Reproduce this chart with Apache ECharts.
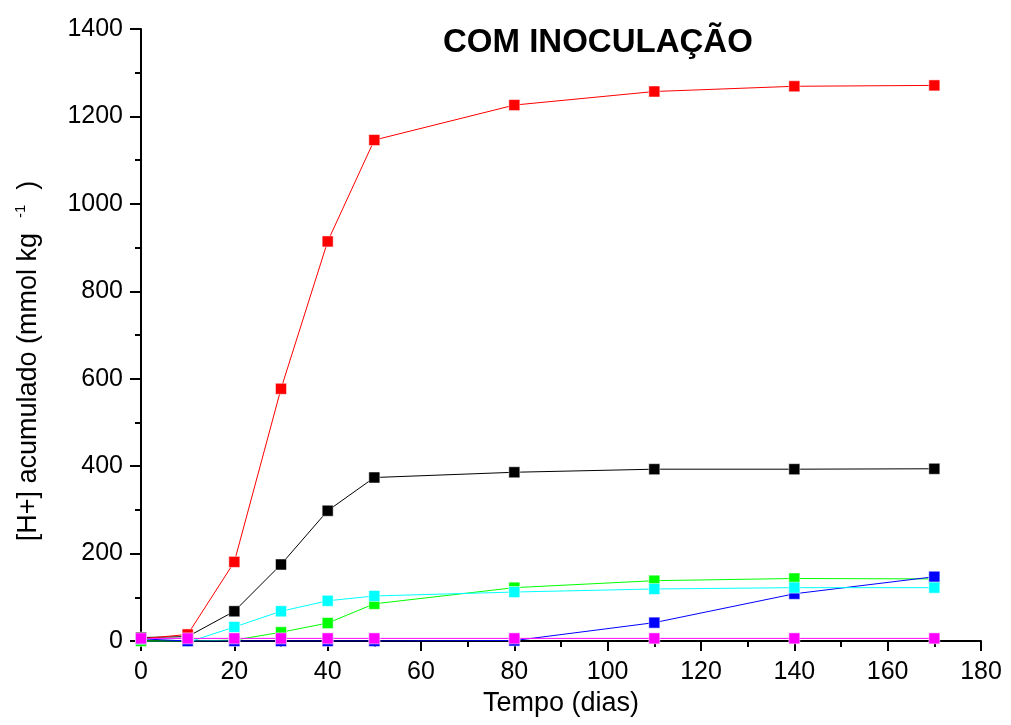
<!DOCTYPE html>
<html><head><meta charset="utf-8">
<script src="https://cdn.jsdelivr.net/npm/echarts@6/dist/echarts.min.js"></script>
<style>html,body{margin:0;padding:0;background:#fff}#c{width:1011px;height:725px}</style>
</head><body><div id="c"></div>
<script>
const days = [0, 10, 20, 30, 40, 50, 80, 110, 140, 170];
const black = [8, 10, 68, 175, 298, 374, 386, 393, 393, 394];
const red = [5, 15, 181, 577, 914, 1146, 1226, 1257, 1269, 1271];
const green = [0, 0, 2, 20, 41, 85, 122, 138, 143, 142];
const blue = [5, 0, 0, 0, 0, 0, 1, 42, 108, 147];
const cyan = [-2, -3, 32, 68, 92, 103, 112, 119, 122, 122];
const magenta = [6, 6, 6, 6, 6, 6, 6, 6, 6, 6];
const titleText = 'COM INOCULAÇÃO';
const xName = 'Tempo (dias)';

function mk(name, vals, color) {
  return {
    name, type: 'line', data: days.map((d, i) => [d, vals[i]]),
    symbol: 'rect', symbolSize: 11, showSymbol: true,
    lineStyle: { color, width: 1 }, itemStyle: { color, borderColor: '#fff', borderWidth: 0.5 },
    animation: false
  };
}
const chart = echarts.init(document.getElementById('c'));
const font = 'Liberation Sans, Arial, sans-serif';
chart.setOption({
  backgroundColor: '#fff',
  animation: false,
  title: { text: titleText, left: 438, top: 21, textStyle: { fontFamily: font, fontWeight: 'bold', fontSize: 33, color: '#000' } },
  grid: { left: 141, right: 30, top: 29, bottom: 84, containLabel: false },
  xAxis: {
    type: 'value', min: 0, max: 180, interval: 20,
    name: xName, nameLocation: 'middle', nameGap: 48,
    nameTextStyle: { fontFamily: font, fontSize: 27, color: '#000' },
    axisLine: { onZero: false, lineStyle: { color: '#000', width: 2 } },
    axisTick: { inside: false, length: 10, lineStyle: { color: '#000', width: 2 } },
    minorTick: { show: true, splitNumber: 2, length: 6, lineStyle: { color: '#000', width: 2 } },
    axisLabel: { fontFamily: font, fontSize: 25, color: '#000', margin: 19, formatter: v => String(v) },
    splitLine: { show: false }
  },
  yAxis: {
    type: 'value', min: 0, max: 1400, interval: 200,
    name: '[H+] acumulado (mmol kg  {sup|-1}  )', nameLocation: 'middle', nameGap: 97, nameRotate: 90,
    nameTextStyle: { fontFamily: font, fontSize: 27, color: '#000', padding: [0, 52, 0, 0],
      rich: { sup: { fontFamily: font, fontSize: 15, verticalAlign: 'top', padding: [0, 0, 16, 0], color: '#000' } } },
    axisLine: { onZero: false, lineStyle: { color: '#000', width: 2 } },
    axisTick: { inside: false, length: 11, lineStyle: { color: '#000', width: 2 } },
    minorTick: { show: true, splitNumber: 2, length: 6, lineStyle: { color: '#000', width: 2 } },
    axisLabel: { fontFamily: font, fontSize: 25, color: '#000', margin: 18, formatter: v => String(v) },
    splitLine: { show: false }
  },
  series: [
    mk('black', black, '#000000'),
    mk('red', red, '#ff0000'),
    mk('green', green, '#00ff00'),
    mk('blue', blue, '#0000ff'),
    mk('cyan', cyan, '#00ffff'),
    mk('magenta', magenta, '#ff00ff')
  ]
});
</script></body></html>
